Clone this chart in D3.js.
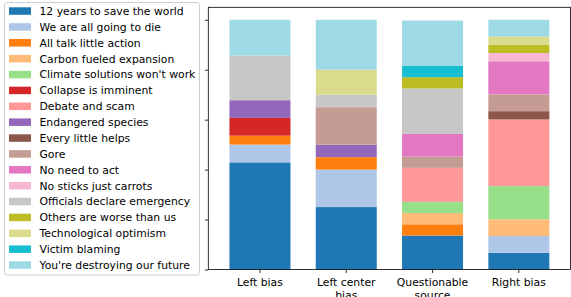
<!DOCTYPE html>
<html>
<head>
<meta charset="utf-8">
<script src="https://cdn.jsdelivr.net/npm/d3@7"></script>
<style>
  body { margin: 0; background: #fff; }
  text { font-family: "DejaVu Sans", sans-serif; }
</style>
</head>
<body>
<div class="layout"></div>
<script>
var categories = ["Left bias", "Left center bias", "Questionable source", "Right bias"];
var categoryLines = [["Left bias"], ["Left center", "bias"], ["Questionable", "source"], ["Right bias"]];

var seriesNames = [
  "12 years to save the world", "We are all going to die", "All talk little action",
  "Carbon fueled expansion", "Climate solutions won't work", "Collapse is imminent",
  "Debate and scam", "Endangered species", "Every little helps", "Gore",
  "No need to act", "No sticks just carrots", "Officials declare emergency",
  "Others are worse than us", "Technological optimism", "Victim blaming",
  "You're destroying our future"
];

var seriesColors = [
  "#1f77b4", "#aec7e8", "#ff7f0e", "#ffbb78", "#98df8a", "#d62728",
  "#ff9896", "#9467bd", "#8c564b", "#c49c94", "#e377c2", "#f7b6d2",
  "#c7c7c7", "#bcbd22", "#dbdb8d", "#17becf", "#9edae5"
];

// share of each narrative per source type, same order as seriesNames
var leftBias           = [0.429, 0.071, 0.036, 0,     0,     0.071, 0,     0.071, 0,     0,     0,     0,     0.179, 0,     0,     0,     0.143];
var leftCenterBias     = [0.250, 0.150, 0.050, 0,     0,     0,     0,     0.050, 0,     0.150, 0,     0,     0.050, 0,     0.100, 0,     0.200];
var questionableSource = [0.136, 0,     0.045, 0.045, 0.045, 0,     0.136, 0,     0,     0.045, 0.091, 0,     0.182, 0.045, 0,     0.045, 0.182];
var rightBias          = [0.067, 0.067, 0,     0.067, 0.133, 0,     0.267, 0,     0.033, 0.067, 0.133, 0.033, 0,     0.033, 0.033, 0,     0.067];

var yTicks = [0, 0.2, 0.4, 0.6, 0.8, 1.0];

var width = 571, height = 297;
var plot = {left: 208.3, right: 570.5, top: 7.3, bottom: 269.5};
var fontSize = 10.8;

var columns = [leftBias, leftCenterBias, questionableSource, rightBias];
var table = categories.map(function(c, i) {
  var row = {category: c};
  seriesNames.forEach(function(s, j) { row[s] = columns[i][j]; });
  return row;
});

var stacked = d3.stack().keys(seriesNames)(table);

var x = d3.scaleBand()
  .domain(categories)
  .range([plot.left, plot.right])
  .paddingInner(0.293)
  .paddingOuter(0.245);

var y = d3.scaleLinear()
  .domain([0, 1.05])
  .range([plot.bottom, plot.top]);

var color = d3.scaleOrdinal().domain(seriesNames).range(seriesColors);

var svg = d3.select(".layout").append("svg")
  .attr("width", width)
  .attr("height", height);

// bars
svg.append("g")
  .selectAll("g")
  .data(stacked)
  .enter().append("g")
    .attr("fill", function(d) { return color(d.key); })
  .selectAll("rect")
  .data(function(d) { return d.filter(function(p) { return p[1] - p[0] > 0; }); })
  .enter().append("rect")
    .attr("x", function(d) { return x(d.data.category); })
    .attr("width", x.bandwidth())
    .attr("y", function(d) { return y(d[1]); })
    .attr("height", function(d) { return y(d[0]) - y(d[1]); });

// spines
var spine = svg.append("g").attr("fill", "none").attr("stroke", "#000").attr("stroke-width", 0.8);
spine.append("rect")
  .attr("x", plot.left).attr("y", plot.top)
  .attr("width", plot.right - plot.left).attr("height", plot.bottom - plot.top);

// y axis: ticks only, no labels
var yAxis = d3.axisLeft(y).tickValues(yTicks).tickSize(3.5).tickFormat("");
svg.append("g")
  .attr("class", "y axis")
  .attr("transform", "translate(" + plot.left + ",0)")
  .call(yAxis)
  .call(function(g) { g.select(".domain").remove(); })
  .selectAll("line").attr("stroke-width", 0.8);

// x axis
var xAxis = d3.axisBottom(x).tickSize(3.5).tickFormat("");
var gx = svg.append("g")
  .attr("class", "x axis")
  .attr("transform", "translate(0," + plot.bottom + ")")
  .call(xAxis);
gx.select(".domain").remove();
gx.selectAll("line").attr("stroke-width", 0.8);

svg.append("g").selectAll("text")
  .data(categories)
  .enter().append("text")
    .attr("x", function(d) { return x(d) + x.bandwidth() / 2; })
    .attr("y", plot.bottom + 16.2)
    .attr("text-anchor", "middle")
    .style("font-size", fontSize + "px")
    .attr("fill", "#000")
    .each(function(d, i) {
      var t = d3.select(this);
      categoryLines[i].forEach(function(line, k) {
        t.append("tspan")
          .attr("x", x(d) + x.bandwidth() / 2)
          .attr("dy", k === 0 ? 0 : 12.8)
          .text(line);
      });
    });

// legend
var legend = svg.append("g").attr("class", "legend");
legend.append("rect")
  .attr("x", 4.5).attr("y", 2.5)
  .attr("width", 195).attr("height", 272.5)
  .attr("rx", 2.5)
  .attr("fill", "#fff").attr("fill-opacity", 0.8)
  .attr("stroke", "#cccccc").attr("stroke-width", 1);

var rowY = d3.scaleLinear().domain([0, seriesNames.length - 1]).range([11, 265]);

var item = legend.selectAll(".item")
  .data(seriesNames)
  .enter().append("g")
    .attr("class", "item")
    .attr("transform", function(d, i) { return "translate(0," + rowY(i) + ")"; });

item.append("rect")
  .attr("x", 9).attr("y", -3.7)
  .attr("width", 22).attr("height", 7.5)
  .attr("fill", function(d) { return color(d); });

item.append("text")
  .attr("x", 39.5)
  .attr("y", 3.9)
  .style("font-size", fontSize + "px")
  .attr("fill", "#000")
  .text(function(d) { return d; });
</script>
</body>
</html>
